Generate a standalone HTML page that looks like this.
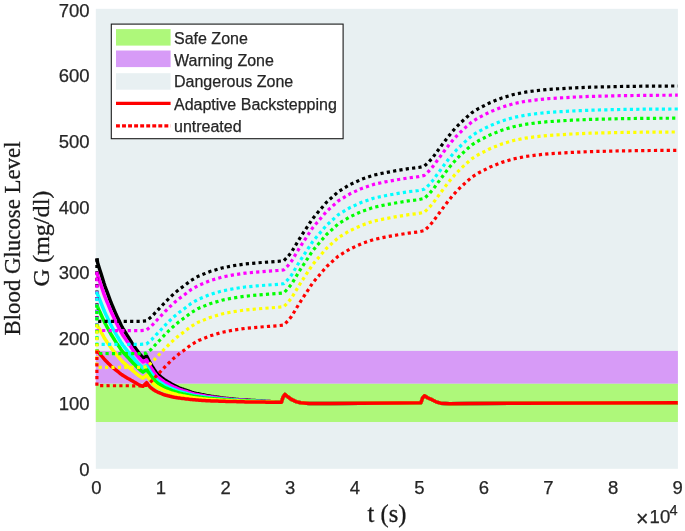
<!DOCTYPE html>
<html><head><meta charset="utf-8"><title>Blood Glucose Level</title>
<style>html,body{margin:0;padding:0;background:#fff}svg{display:block}text{font-family:"Liberation Sans",Arial,sans-serif;fill:#262626;stroke:#262626;stroke-width:0.25px}.ser{font-family:"Liberation Serif","Times New Roman",serif;fill:#1a1a1a;stroke:#1a1a1a;stroke-width:0.3px}</style></head><body>
<svg width="685" height="531" viewBox="0 0 685 531">
<rect x="0" y="0" width="685" height="531" fill="#fff"/>
<rect x="95.8" y="8.8" width="582.1" height="460.0" fill="#E8F0F2"/>
<rect x="95.8" y="383.5" width="582.1" height="38.5" fill="#AEF87A"/>
<rect x="95.8" y="350.9" width="582.1" height="32.7" fill="#D79BF7"/>
<path d="M96.9 258.4 L97.6 262.7 L98.0 264.0 L99.0 267.2 L100.0 270.4 L101.0 273.6 L102.0 276.8 L103.0 280.0 L104.0 283.3 L105.0 286.3 L106.0 289.0 L107.0 291.7 L108.0 294.4 L109.0 297.1 L110.0 299.8 L111.0 302.5 L112.0 304.9 L113.0 307.2 L114.0 309.6 L115.0 311.9 L116.0 314.3 L117.0 316.5 L118.0 318.6 L119.0 320.7 L120.0 322.8 L121.0 324.9 L122.0 327.0 L123.0 328.7 L124.0 330.3 L125.0 331.9 L126.0 333.5 L127.0 335.1 L128.0 336.7 L129.0 338.3 L130.0 339.9 L131.0 341.5 L132.0 343.1 L133.0 344.7 L134.0 346.2 L135.0 347.6 L136.0 349.0 L137.0 350.4 L138.0 351.7 L139.0 353.1 L140.0 354.3 L141.0 355.5 L142.0 356.6 L143.0 357.9 L144.0 357.5 L145.0 357.0 L146.0 356.4 L146.6 356.1 L147.0 356.9 L148.0 358.9 L149.0 360.8 L150.0 362.8 L151.0 364.4 L152.0 366.1 L153.0 367.7 L154.0 369.3 L155.0 370.7 L156.0 372.2 L157.0 373.6 L158.0 374.6 L159.0 375.4 L160.0 376.2 L161.0 377.0 L162.0 377.8 L163.0 378.6 L164.0 379.4 L165.0 380.1 L166.0 380.7 L167.0 381.3 L168.0 381.9 L169.0 382.5 L170.0 383.1 L171.0 383.7 L172.0 384.3 L173.0 384.8 L174.0 385.3 L175.0 385.8 L176.0 386.3 L177.0 386.8 L178.0 387.3 L179.0 387.8 L180.0 388.2 L181.0 388.5 L182.0 388.9 L183.0 389.2 L184.0 389.6 L185.0 389.9 L186.0 390.3 L187.0 390.6 L188.0 391.0 L189.0 391.3 L190.0 391.7 L191.0 392.0 L192.0 392.4 L193.0 392.7 L194.0 393.0 L195.0 393.2 L196.0 393.4 L197.0 393.6 L198.0 393.8 L199.0 394.0 L200.0 394.2 L201.0 394.4 L202.0 394.6 L203.0 394.8 L204.0 395.0 L205.0 395.2 L206.0 395.4 L207.0 395.6 L208.0 395.8 L209.0 396.0 L210.0 396.1 L211.0 396.3 L212.0 396.4 L213.0 396.6 L214.0 396.7 L215.0 396.9 L216.0 397.0 L217.0 397.2 L218.0 397.3 L219.0 397.5 L220.0 397.6 L221.0 397.8 L222.0 397.9 L223.0 398.1 L224.0 398.2 L225.0 398.3 L226.0 398.4 L227.0 398.5 L228.0 398.6 L229.0 398.7 L230.0 398.8 L231.0 398.9 L232.0 399.0 L233.0 399.1 L234.0 399.2 L235.0 399.3 L236.0 399.4 L237.0 399.5 L238.0 399.6 L239.0 399.7 L240.0 399.7 L241.0 399.8 L242.0 399.8 L243.0 399.9 L244.0 400.0 L245.0 400.0 L246.0 400.1 L247.0 400.1 L248.0 400.2 L249.0 400.2 L250.0 400.3 L251.0 400.4 L252.0 400.4 L253.0 400.5 L254.0 400.6 L255.0 400.6 L256.0 400.7 L257.0 400.8 L258.0 400.8 L259.0 400.9 L260.0 401.0 L261.0 401.0 L262.0 401.1 L263.0 401.2 L264.0 401.2 L265.0 401.3 L266.0 401.4 L267.0 401.4 L268.0 401.5 L269.0 401.6 L270.0 401.6 L271.0 401.7 L272.0 401.7 L273.0 401.8 L274.0 401.9 L275.0 401.9 L276.0 402.0 L277.0 402.1 L278.0 402.1 L279.0 402.2 L280.0 402.2 L281.4 402.3 L283.0 397.2 L284.9 394.4 L288.0 397.0 L291.9 399.7 L296.0 401.6 L300.6 402.8 L309.4 403.6 L330.0 403.5 L360.0 403.2 L400.0 402.9 L420.9 402.8 L422.5 398.2 L424.4 395.8 L428.0 398.0 L431.9 399.7 L436.0 401.8 L440.6 403.2 L449.4 403.8 L470.0 403.6 L520.0 403.2 L600.0 402.9 L677.8 402.7" fill="none" stroke="#000000" stroke-width="3.5" stroke-linejoin="round"/>
<path d="M96.9 271.6 L97.6 275.4 L98.0 276.5 L99.0 279.4 L100.0 282.4 L101.0 285.3 L102.0 288.2 L103.0 291.1 L104.0 294.1 L105.0 296.8 L106.0 299.3 L107.0 301.8 L108.0 304.2 L109.0 306.7 L110.0 309.1 L111.0 311.6 L112.0 313.7 L113.0 315.8 L114.0 318.0 L115.0 320.1 L116.0 322.3 L117.0 324.2 L118.0 326.2 L119.0 328.1 L120.0 330.0 L121.0 331.9 L122.0 333.8 L123.0 335.4 L124.0 336.8 L125.0 338.3 L126.0 339.7 L127.0 341.2 L128.0 342.6 L129.0 344.1 L130.0 345.6 L131.0 347.0 L132.0 348.5 L133.0 349.9 L134.0 351.3 L135.0 352.6 L136.0 353.8 L137.0 355.1 L138.0 356.4 L139.0 357.6 L140.0 358.7 L141.0 359.8 L142.0 360.8 L143.0 361.9 L144.0 361.5 L145.0 360.9 L146.0 360.3 L146.6 359.9 L147.0 360.6 L148.0 362.5 L149.0 364.4 L150.0 366.3 L151.0 367.8 L152.0 369.3 L153.0 370.8 L154.0 372.3 L155.0 373.6 L156.0 374.9 L157.0 376.2 L158.0 377.1 L159.0 377.8 L160.0 378.6 L161.0 379.3 L162.0 380.1 L163.0 380.8 L164.0 381.6 L165.0 382.3 L166.0 382.8 L167.0 383.3 L168.0 383.9 L169.0 384.4 L170.0 385.0 L171.0 385.5 L172.0 386.0 L173.0 386.5 L174.0 387.0 L175.0 387.4 L176.0 387.9 L177.0 388.3 L178.0 388.8 L179.0 389.3 L180.0 389.6 L181.0 389.9 L182.0 390.2 L183.0 390.6 L184.0 390.9 L185.0 391.2 L186.0 391.5 L187.0 391.8 L188.0 392.1 L189.0 392.5 L190.0 392.8 L191.0 393.1 L192.0 393.4 L193.0 393.7 L194.0 394.0 L195.0 394.2 L196.0 394.4 L197.0 394.5 L198.0 394.7 L199.0 394.9 L200.0 395.1 L201.0 395.3 L202.0 395.5 L203.0 395.6 L204.0 395.8 L205.0 396.0 L206.0 396.2 L207.0 396.4 L208.0 396.5 L209.0 396.7 L210.0 396.8 L211.0 396.9 L212.0 397.1 L213.0 397.2 L214.0 397.3 L215.0 397.5 L216.0 397.6 L217.0 397.8 L218.0 397.9 L219.0 398.0 L220.0 398.2 L221.0 398.3 L222.0 398.4 L223.0 398.6 L224.0 398.6 L225.0 398.7 L226.0 398.8 L227.0 398.9 L228.0 399.0 L229.0 399.1 L230.0 399.2 L231.0 399.3 L232.0 399.4 L233.0 399.5 L234.0 399.6 L235.0 399.7 L236.0 399.7 L237.0 399.8 L238.0 399.9 L239.0 400.0 L240.0 400.0 L241.0 400.1 L242.0 400.1 L243.0 400.2 L244.0 400.2 L245.0 400.3 L246.0 400.3 L247.0 400.4 L248.0 400.4 L249.0 400.5 L250.0 400.5 L251.0 400.6 L252.0 400.7 L253.0 400.7 L254.0 400.8 L255.0 400.8 L256.0 400.9 L257.0 401.0 L258.0 401.0 L259.0 401.1 L260.0 401.1 L261.0 401.2 L262.0 401.2 L263.0 401.3 L264.0 401.4 L265.0 401.4 L266.0 401.5 L267.0 401.5 L268.0 401.6 L269.0 401.6 L270.0 401.7 L271.0 401.8 L272.0 401.8 L273.0 401.9 L274.0 401.9 L275.0 402.0 L276.0 402.0 L277.0 402.1 L278.0 402.1 L279.0 402.2 L280.0 402.2 L281.4 402.3 L283.0 397.2 L284.9 394.4 L288.0 397.0 L291.9 399.7 L296.0 401.6 L300.6 402.8 L309.4 403.6 L330.0 403.5 L360.0 403.2 L400.0 402.9 L420.9 402.8 L422.5 398.2 L424.4 395.8 L428.0 398.0 L431.9 399.7 L436.0 401.8 L440.6 403.2 L449.4 403.8 L470.0 403.6 L520.0 403.2 L600.0 402.9 L677.8 402.7" fill="none" stroke="#FF00FF" stroke-width="3.5" stroke-linejoin="round"/>
<path d="M96.9 291.3 L97.6 294.4 L98.0 295.3 L99.0 297.8 L100.0 300.3 L101.0 302.8 L102.0 305.3 L103.0 307.8 L104.0 310.3 L105.0 312.6 L106.0 314.8 L107.0 316.8 L108.0 318.9 L109.0 321.0 L110.0 323.1 L111.0 325.2 L112.0 327.0 L113.0 328.8 L114.0 330.6 L115.0 332.4 L116.0 334.2 L117.0 335.9 L118.0 337.5 L119.0 339.2 L120.0 340.8 L121.0 342.4 L122.0 344.1 L123.0 345.4 L124.0 346.6 L125.0 347.9 L126.0 349.1 L127.0 350.3 L128.0 351.6 L129.0 352.8 L130.0 354.1 L131.0 355.3 L132.0 356.5 L133.0 357.8 L134.0 358.9 L135.0 360.1 L136.0 361.2 L137.0 362.3 L138.0 363.4 L139.0 364.4 L140.0 365.3 L141.0 366.2 L142.0 367.1 L143.0 368.0 L144.0 367.4 L145.0 366.7 L146.0 366.0 L146.6 365.6 L147.0 366.3 L148.0 368.0 L149.0 369.7 L150.0 371.4 L151.0 372.8 L152.0 374.1 L153.0 375.4 L154.0 376.7 L155.0 377.9 L156.0 379.0 L157.0 380.1 L158.0 380.9 L159.0 381.6 L160.0 382.2 L161.0 382.9 L162.0 383.5 L163.0 384.2 L164.0 384.9 L165.0 385.5 L166.0 385.9 L167.0 386.4 L168.0 386.9 L169.0 387.3 L170.0 387.8 L171.0 388.3 L172.0 388.7 L173.0 389.1 L174.0 389.5 L175.0 389.9 L176.0 390.3 L177.0 390.7 L178.0 391.1 L179.0 391.4 L180.0 391.7 L181.0 392.0 L182.0 392.3 L183.0 392.5 L184.0 392.8 L185.0 393.1 L186.0 393.3 L187.0 393.6 L188.0 393.9 L189.0 394.1 L190.0 394.4 L191.0 394.7 L192.0 395.0 L193.0 395.2 L194.0 395.4 L195.0 395.6 L196.0 395.8 L197.0 395.9 L198.0 396.1 L199.0 396.2 L200.0 396.4 L201.0 396.5 L202.0 396.7 L203.0 396.8 L204.0 397.0 L205.0 397.2 L206.0 397.3 L207.0 397.4 L208.0 397.6 L209.0 397.7 L210.0 397.8 L211.0 397.9 L212.0 398.0 L213.0 398.1 L214.0 398.3 L215.0 398.4 L216.0 398.5 L217.0 398.6 L218.0 398.7 L219.0 398.8 L220.0 398.9 L221.0 399.0 L222.0 399.1 L223.0 399.2 L224.0 399.3 L225.0 399.4 L226.0 399.5 L227.0 399.5 L228.0 399.6 L229.0 399.7 L230.0 399.8 L231.0 399.8 L232.0 399.9 L233.0 400.0 L234.0 400.1 L235.0 400.1 L236.0 400.2 L237.0 400.3 L238.0 400.4 L239.0 400.4 L240.0 400.4 L241.0 400.5 L242.0 400.5 L243.0 400.6 L244.0 400.6 L245.0 400.7 L246.0 400.7 L247.0 400.8 L248.0 400.8 L249.0 400.9 L250.0 400.9 L251.0 401.0 L252.0 401.0 L253.0 401.0 L254.0 401.1 L255.0 401.1 L256.0 401.2 L257.0 401.2 L258.0 401.3 L259.0 401.3 L260.0 401.4 L261.0 401.4 L262.0 401.5 L263.0 401.5 L264.0 401.6 L265.0 401.6 L266.0 401.6 L267.0 401.7 L268.0 401.7 L269.0 401.8 L270.0 401.8 L271.0 401.9 L272.0 401.9 L273.0 402.0 L274.0 402.0 L275.0 402.0 L276.0 402.1 L277.0 402.1 L278.0 402.2 L279.0 402.2 L280.0 402.3 L281.4 402.3 L283.0 397.2 L284.9 394.4 L288.0 397.0 L291.9 399.7 L296.0 401.6 L300.6 402.8 L309.4 403.6 L330.0 403.5 L360.0 403.2 L400.0 402.9 L420.9 402.8 L422.5 398.2 L424.4 395.8 L428.0 398.0 L431.9 399.7 L436.0 401.8 L440.6 403.2 L449.4 403.8 L470.0 403.6 L520.0 403.2 L600.0 402.9 L677.8 402.7" fill="none" stroke="#00FFFF" stroke-width="3.5" stroke-linejoin="round"/>
<path d="M96.9 304.4 L97.6 307.0 L98.0 307.9 L99.0 310.1 L100.0 312.3 L101.0 314.5 L102.0 316.7 L103.0 318.9 L104.0 321.1 L105.0 323.2 L106.0 325.0 L107.0 326.9 L108.0 328.7 L109.0 330.6 L110.0 332.4 L111.0 334.2 L112.0 335.8 L113.0 337.4 L114.0 339.0 L115.0 340.6 L116.0 342.2 L117.0 343.7 L118.0 345.1 L119.0 346.6 L120.0 348.0 L121.0 349.5 L122.0 350.9 L123.0 352.1 L124.0 353.2 L125.0 354.3 L126.0 355.4 L127.0 356.5 L128.0 357.6 L129.0 358.6 L130.0 359.7 L131.0 360.8 L132.0 361.9 L133.0 363.0 L134.0 364.0 L135.0 365.0 L136.0 366.0 L137.0 367.0 L138.0 368.0 L139.0 368.9 L140.0 369.8 L141.0 370.6 L142.0 371.4 L143.0 372.1 L144.0 371.4 L145.0 370.6 L146.0 369.9 L146.6 369.4 L147.0 370.0 L148.0 371.7 L149.0 373.3 L150.0 374.9 L151.0 376.1 L152.0 377.3 L153.0 378.5 L154.0 379.7 L155.0 380.7 L156.0 381.7 L157.0 382.7 L158.0 383.4 L159.0 384.0 L160.0 384.6 L161.0 385.2 L162.0 385.8 L163.0 386.5 L164.0 387.1 L165.0 387.6 L166.0 388.0 L167.0 388.4 L168.0 388.8 L169.0 389.3 L170.0 389.7 L171.0 390.1 L172.0 390.5 L173.0 390.9 L174.0 391.2 L175.0 391.6 L176.0 391.9 L177.0 392.3 L178.0 392.6 L179.0 392.9 L180.0 393.2 L181.0 393.4 L182.0 393.6 L183.0 393.9 L184.0 394.1 L185.0 394.3 L186.0 394.6 L187.0 394.8 L188.0 395.0 L189.0 395.3 L190.0 395.5 L191.0 395.8 L192.0 396.0 L193.0 396.2 L194.0 396.4 L195.0 396.5 L196.0 396.7 L197.0 396.8 L198.0 397.0 L199.0 397.1 L200.0 397.2 L201.0 397.4 L202.0 397.5 L203.0 397.6 L204.0 397.8 L205.0 397.9 L206.0 398.1 L207.0 398.2 L208.0 398.3 L209.0 398.4 L210.0 398.5 L211.0 398.6 L212.0 398.7 L213.0 398.8 L214.0 398.9 L215.0 399.0 L216.0 399.1 L217.0 399.1 L218.0 399.2 L219.0 399.3 L220.0 399.4 L221.0 399.5 L222.0 399.6 L223.0 399.7 L224.0 399.8 L225.0 399.8 L226.0 399.9 L227.0 399.9 L228.0 400.0 L229.0 400.1 L230.0 400.1 L231.0 400.2 L232.0 400.3 L233.0 400.3 L234.0 400.4 L235.0 400.5 L236.0 400.5 L237.0 400.6 L238.0 400.7 L239.0 400.7 L240.0 400.7 L241.0 400.8 L242.0 400.8 L243.0 400.9 L244.0 400.9 L245.0 400.9 L246.0 401.0 L247.0 401.0 L248.0 401.1 L249.0 401.1 L250.0 401.2 L251.0 401.2 L252.0 401.2 L253.0 401.3 L254.0 401.3 L255.0 401.3 L256.0 401.4 L257.0 401.4 L258.0 401.5 L259.0 401.5 L260.0 401.5 L261.0 401.6 L262.0 401.6 L263.0 401.6 L264.0 401.7 L265.0 401.7 L266.0 401.8 L267.0 401.8 L268.0 401.8 L269.0 401.9 L270.0 401.9 L271.0 401.9 L272.0 402.0 L273.0 402.0 L274.0 402.0 L275.0 402.1 L276.0 402.1 L277.0 402.2 L278.0 402.2 L279.0 402.2 L280.0 402.3 L281.4 402.3 L283.0 397.2 L284.9 394.4 L288.0 397.0 L291.9 399.7 L296.0 401.6 L300.6 402.8 L309.4 403.6 L330.0 403.5 L360.0 403.2 L400.0 402.9 L420.9 402.8 L422.5 398.2 L424.4 395.8 L428.0 398.0 L431.9 399.7 L436.0 401.8 L440.6 403.2 L449.4 403.8 L470.0 403.6 L520.0 403.2 L600.0 402.9 L677.8 402.7" fill="none" stroke="#00FF00" stroke-width="3.5" stroke-linejoin="round"/>
<path d="M96.9 324.2 L97.6 326.0 L98.0 326.7 L99.0 328.5 L100.0 330.2 L101.0 332.0 L102.0 333.7 L103.0 335.5 L104.0 337.3 L105.0 339.0 L106.0 340.5 L107.0 342.0 L108.0 343.4 L109.0 344.9 L110.0 346.4 L111.0 347.9 L112.0 349.1 L113.0 350.4 L114.0 351.6 L115.0 352.9 L116.0 354.2 L117.0 355.4 L118.0 356.5 L119.0 357.7 L120.0 358.8 L121.0 360.0 L122.0 361.2 L123.0 362.1 L124.0 363.0 L125.0 363.9 L126.0 364.8 L127.0 365.6 L128.0 366.5 L129.0 367.4 L130.0 368.2 L131.0 369.1 L132.0 370.0 L133.0 370.9 L134.0 371.7 L135.0 372.5 L136.0 373.3 L137.0 374.2 L138.0 375.0 L139.0 375.7 L140.0 376.4 L141.0 377.0 L142.0 377.7 L143.0 378.2 L144.0 377.4 L145.0 376.5 L146.0 375.6 L146.6 375.1 L147.0 375.7 L148.0 377.2 L149.0 378.6 L150.0 380.1 L151.0 381.1 L152.0 382.1 L153.0 383.2 L154.0 384.2 L155.0 385.0 L156.0 385.8 L157.0 386.6 L158.0 387.2 L159.0 387.7 L160.0 388.3 L161.0 388.8 L162.0 389.3 L163.0 389.8 L164.0 390.3 L165.0 390.8 L166.0 391.1 L167.0 391.5 L168.0 391.8 L169.0 392.2 L170.0 392.5 L171.0 392.9 L172.0 393.2 L173.0 393.5 L174.0 393.8 L175.0 394.0 L176.0 394.3 L177.0 394.6 L178.0 394.9 L179.0 395.1 L180.0 395.3 L181.0 395.5 L182.0 395.7 L183.0 395.9 L184.0 396.0 L185.0 396.2 L186.0 396.4 L187.0 396.6 L188.0 396.8 L189.0 397.0 L190.0 397.2 L191.0 397.3 L192.0 397.5 L193.0 397.7 L194.0 397.8 L195.0 398.0 L196.0 398.1 L197.0 398.2 L198.0 398.3 L199.0 398.4 L200.0 398.5 L201.0 398.6 L202.0 398.7 L203.0 398.9 L204.0 399.0 L205.0 399.1 L206.0 399.2 L207.0 399.3 L208.0 399.4 L209.0 399.4 L210.0 399.5 L211.0 399.6 L212.0 399.6 L213.0 399.7 L214.0 399.8 L215.0 399.8 L216.0 399.9 L217.0 400.0 L218.0 400.0 L219.0 400.1 L220.0 400.2 L221.0 400.2 L222.0 400.3 L223.0 400.4 L224.0 400.4 L225.0 400.5 L226.0 400.5 L227.0 400.6 L228.0 400.6 L229.0 400.7 L230.0 400.7 L231.0 400.8 L232.0 400.8 L233.0 400.9 L234.0 400.9 L235.0 401.0 L236.0 401.0 L237.0 401.0 L238.0 401.1 L239.0 401.1 L240.0 401.2 L241.0 401.2 L242.0 401.2 L243.0 401.3 L244.0 401.3 L245.0 401.3 L246.0 401.4 L247.0 401.4 L248.0 401.4 L249.0 401.5 L250.0 401.5 L251.0 401.5 L252.0 401.6 L253.0 401.6 L254.0 401.6 L255.0 401.6 L256.0 401.7 L257.0 401.7 L258.0 401.7 L259.0 401.7 L260.0 401.8 L261.0 401.8 L262.0 401.8 L263.0 401.9 L264.0 401.9 L265.0 401.9 L266.0 401.9 L267.0 402.0 L268.0 402.0 L269.0 402.0 L270.0 402.0 L271.0 402.1 L272.0 402.1 L273.0 402.1 L274.0 402.1 L275.0 402.2 L276.0 402.2 L277.0 402.2 L278.0 402.2 L279.0 402.3 L280.0 402.3 L281.4 402.3 L283.0 397.2 L284.9 394.4 L288.0 397.0 L291.9 399.7 L296.0 401.6 L300.6 402.8 L309.4 403.6 L330.0 403.5 L360.0 403.2 L400.0 402.9 L420.9 402.8 L422.5 398.2 L424.4 395.8 L428.0 398.0 L431.9 399.7 L436.0 401.8 L440.6 403.2 L449.4 403.8 L470.0 403.6 L520.0 403.2 L600.0 402.9 L677.8 402.7" fill="none" stroke="#FFFF00" stroke-width="3.5" stroke-linejoin="round"/>
<path d="M96.9 350.5 L97.6 351.3 L98.0 351.8 L99.0 353.0 L100.0 354.2 L101.0 355.3 L102.0 356.5 L103.0 357.7 L104.0 358.9 L105.0 360.0 L106.0 361.1 L107.0 362.1 L108.0 363.1 L109.0 364.0 L110.0 365.0 L111.0 366.0 L112.0 366.8 L113.0 367.6 L114.0 368.5 L115.0 369.3 L116.0 370.1 L117.0 370.9 L118.0 371.7 L119.0 372.5 L120.0 373.3 L121.0 374.1 L122.0 374.8 L123.0 375.5 L124.0 376.1 L125.0 376.7 L126.0 377.3 L127.0 377.9 L128.0 378.5 L129.0 379.0 L130.0 379.6 L131.0 380.2 L132.0 380.7 L133.0 381.3 L134.0 381.9 L135.0 382.5 L136.0 383.1 L137.0 383.7 L138.0 384.3 L139.0 384.8 L140.0 385.2 L141.0 385.7 L142.0 386.1 L143.0 386.3 L144.0 385.3 L145.0 384.3 L146.0 383.3 L146.6 382.7 L147.0 383.2 L148.0 384.5 L149.0 385.7 L150.0 387.0 L151.0 387.8 L152.0 388.6 L153.0 389.3 L154.0 390.1 L155.0 390.7 L156.0 391.3 L157.0 391.8 L158.0 392.3 L159.0 392.7 L160.0 393.1 L161.0 393.5 L162.0 393.9 L163.0 394.3 L164.0 394.7 L165.0 395.0 L166.0 395.3 L167.0 395.5 L168.0 395.8 L169.0 396.0 L170.0 396.3 L171.0 396.5 L172.0 396.8 L173.0 397.0 L174.0 397.2 L175.0 397.4 L176.0 397.5 L177.0 397.7 L178.0 397.9 L179.0 398.0 L180.0 398.1 L181.0 398.3 L182.0 398.4 L183.0 398.5 L184.0 398.6 L185.0 398.8 L186.0 398.9 L187.0 399.0 L188.0 399.1 L189.0 399.2 L190.0 399.4 L191.0 399.5 L192.0 399.6 L193.0 399.7 L194.0 399.8 L195.0 399.8 L196.0 399.9 L197.0 400.0 L198.0 400.1 L199.0 400.2 L200.0 400.2 L201.0 400.3 L202.0 400.4 L203.0 400.5 L204.0 400.5 L205.0 400.6 L206.0 400.7 L207.0 400.7 L208.0 400.8 L209.0 400.8 L210.0 400.8 L211.0 400.9 L212.0 400.9 L213.0 400.9 L214.0 401.0 L215.0 401.0 L216.0 401.1 L217.0 401.1 L218.0 401.1 L219.0 401.2 L220.0 401.2 L221.0 401.2 L222.0 401.3 L223.0 401.3 L224.0 401.3 L225.0 401.3 L226.0 401.4 L227.0 401.4 L228.0 401.4 L229.0 401.4 L230.0 401.5 L231.0 401.5 L232.0 401.5 L233.0 401.5 L234.0 401.6 L235.0 401.6 L236.0 401.6 L237.0 401.7 L238.0 401.7 L239.0 401.7 L240.0 401.7 L241.0 401.8 L242.0 401.8 L243.0 401.8 L244.0 401.8 L245.0 401.9 L246.0 401.9 L247.0 401.9 L248.0 401.9 L249.0 402.0 L250.0 402.0 L251.0 402.0 L252.0 402.0 L253.0 402.0 L254.0 402.0 L255.0 402.0 L256.0 402.1 L257.0 402.1 L258.0 402.1 L259.0 402.1 L260.0 402.1 L261.0 402.1 L262.0 402.1 L263.0 402.1 L264.0 402.1 L265.0 402.1 L266.0 402.2 L267.0 402.2 L268.0 402.2 L269.0 402.2 L270.0 402.2 L271.0 402.2 L272.0 402.2 L273.0 402.2 L274.0 402.2 L275.0 402.2 L276.0 402.3 L277.0 402.3 L278.0 402.3 L279.0 402.3 L280.0 402.3 L281.4 402.3 L283.0 397.2 L284.9 394.4 L288.0 397.0 L291.9 399.7 L296.0 401.6 L300.6 402.8 L309.4 403.6 L330.0 403.5 L360.0 403.2 L400.0 402.9 L420.9 402.8 L422.5 398.2 L424.4 395.8 L428.0 398.0 L431.9 399.7 L436.0 401.8 L440.6 403.2 L449.4 403.8 L470.0 403.6 L520.0 403.2 L600.0 402.9 L677.8 402.7" fill="none" stroke="#FF0000" stroke-width="3.5" stroke-linejoin="round"/>
<path d="M96.9 258.5 L96.9 321.3 L140.3 321.4 L146.5 320.9 L151.6 316.7 L156.1 311.8 L160.4 307.3 L164.9 302.5 L169.4 298.0 L174.2 293.5 L179.0 289.5 L184.4 285.6 L191.0 280.5 L198.4 276.2 L210.0 271.5 L221.8 268.0 L233.5 265.7 L245.0 264.0 L256.8 262.9 L268.5 262.0 L278.0 261.3 L283.8 260.7 L288.0 256.4 L291.6 251.9 L295.0 246.2 L298.4 240.5 L301.8 235.1 L305.1 230.1 L308.8 224.5 L312.5 218.8 L316.5 214.0 L320.8 209.0 L326.7 202.1 L338.4 191.6 L350.0 184.6 L361.8 179.2 L373.5 175.2 L385.1 172.7 L396.8 170.6 L408.5 168.7 L418.5 167.5 L424.3 166.2 L429.0 161.8 L433.0 157.2 L436.9 151.8 L440.7 146.7 L444.3 141.8 L448.5 136.3 L452.5 131.4 L456.7 126.7 L461.5 122.0 L466.7 117.2 L472.0 112.6 L478.4 108.6 L490.0 102.7 L501.8 98.0 L513.5 94.5 L525.1 92.2 L536.8 90.6 L548.5 89.4 L560.2 88.7 L571.9 88.0 L590.0 87.2 L620.0 86.5 L650.0 86.1 L677.8 86.0" fill="none" stroke="#000000" stroke-width="3.2" stroke-dasharray="3.2 3.2" stroke-linejoin="round"/>
<path d="M96.9 271.7 L96.9 330.5 L140.3 330.6 L146.5 330.1 L151.6 325.9 L156.1 321.0 L160.4 316.5 L164.9 311.7 L169.4 307.2 L174.2 302.7 L179.0 298.7 L184.4 294.8 L191.0 289.7 L198.4 285.4 L210.0 280.7 L221.8 277.2 L233.5 274.9 L245.0 273.2 L256.8 272.1 L268.5 271.2 L278.0 270.5 L283.8 269.9 L288.0 265.6 L291.6 261.1 L295.0 255.4 L298.4 249.7 L301.8 244.3 L305.1 239.3 L308.8 233.7 L312.5 228.0 L316.5 223.2 L320.8 218.2 L326.7 211.3 L338.4 200.8 L350.0 193.8 L361.8 188.4 L373.5 184.4 L385.1 181.9 L396.8 179.8 L408.5 177.9 L418.5 176.7 L424.3 175.4 L429.0 171.0 L433.0 166.4 L436.9 161.0 L440.7 155.9 L444.3 151.0 L448.5 145.5 L452.5 140.6 L456.7 135.9 L461.5 131.2 L466.7 126.4 L472.0 121.8 L478.4 117.8 L490.0 111.9 L501.8 107.2 L513.5 103.7 L525.1 101.4 L536.8 99.8 L548.5 98.6 L560.2 97.9 L571.9 97.2 L590.0 96.4 L620.0 95.7 L650.0 95.3 L677.8 95.2" fill="none" stroke="#FF00FF" stroke-width="3.2" stroke-dasharray="3.2 3.2" stroke-linejoin="round"/>
<path d="M96.9 291.4 L96.9 344.3 L140.3 344.4 L146.5 343.9 L151.6 339.7 L156.1 334.8 L160.4 330.3 L164.9 325.5 L169.4 321.0 L174.2 316.5 L179.0 312.5 L184.4 308.6 L191.0 303.5 L198.4 299.2 L210.0 294.5 L221.8 291.0 L233.5 288.7 L245.0 287.0 L256.8 285.9 L268.5 285.0 L278.0 284.3 L283.8 283.7 L288.0 279.4 L291.6 274.9 L295.0 269.2 L298.4 263.5 L301.8 258.1 L305.1 253.1 L308.8 247.5 L312.5 241.8 L316.5 237.0 L320.8 232.0 L326.7 225.1 L338.4 214.6 L350.0 207.6 L361.8 202.2 L373.5 198.2 L385.1 195.7 L396.8 193.6 L408.5 191.7 L418.5 190.5 L424.3 189.2 L429.0 184.8 L433.0 180.2 L436.9 174.8 L440.7 169.7 L444.3 164.8 L448.5 159.3 L452.5 154.4 L456.7 149.7 L461.5 145.0 L466.7 140.2 L472.0 135.6 L478.4 131.6 L490.0 125.7 L501.8 121.0 L513.5 117.5 L525.1 115.2 L536.8 113.6 L548.5 112.4 L560.2 111.7 L571.9 111.0 L590.0 110.2 L620.0 109.5 L650.0 109.1 L677.8 109.0" fill="none" stroke="#00FFFF" stroke-width="3.2" stroke-dasharray="3.2 3.2" stroke-linejoin="round"/>
<path d="M96.9 304.5 L96.9 353.5 L140.3 353.6 L146.5 353.1 L151.6 348.9 L156.1 344.0 L160.4 339.5 L164.9 334.7 L169.4 330.2 L174.2 325.7 L179.0 321.7 L184.4 317.8 L191.0 312.7 L198.4 308.4 L210.0 303.7 L221.8 300.2 L233.5 297.9 L245.0 296.2 L256.8 295.1 L268.5 294.2 L278.0 293.5 L283.8 292.9 L288.0 288.6 L291.6 284.1 L295.0 278.4 L298.4 272.7 L301.8 267.3 L305.1 262.3 L308.8 256.7 L312.5 251.0 L316.5 246.2 L320.8 241.2 L326.7 234.3 L338.4 223.8 L350.0 216.8 L361.8 211.4 L373.5 207.4 L385.1 204.9 L396.8 202.8 L408.5 200.9 L418.5 199.7 L424.3 198.4 L429.0 194.0 L433.0 189.4 L436.9 184.0 L440.7 178.9 L444.3 174.0 L448.5 168.5 L452.5 163.6 L456.7 158.9 L461.5 154.2 L466.7 149.4 L472.0 144.8 L478.4 140.8 L490.0 134.9 L501.8 130.2 L513.5 126.7 L525.1 124.4 L536.8 122.8 L548.5 121.6 L560.2 120.9 L571.9 120.2 L590.0 119.4 L620.0 118.7 L650.0 118.3 L677.8 118.2" fill="none" stroke="#00FF00" stroke-width="3.2" stroke-dasharray="3.2 3.2" stroke-linejoin="round"/>
<path d="M96.9 324.2 L96.9 367.3 L140.3 367.4 L146.5 366.9 L151.6 362.7 L156.1 357.8 L160.4 353.3 L164.9 348.5 L169.4 344.0 L174.2 339.5 L179.0 335.5 L184.4 331.6 L191.0 326.5 L198.4 322.2 L210.0 317.5 L221.8 314.0 L233.5 311.7 L245.0 310.0 L256.8 308.9 L268.5 308.0 L278.0 307.3 L283.8 306.7 L288.0 302.4 L291.6 297.9 L295.0 292.2 L298.4 286.5 L301.8 281.1 L305.1 276.1 L308.8 270.5 L312.5 264.8 L316.5 260.0 L320.8 255.0 L326.7 248.1 L338.4 237.6 L350.0 230.6 L361.8 225.2 L373.5 221.2 L385.1 218.7 L396.8 216.6 L408.5 214.7 L418.5 213.5 L424.3 212.2 L429.0 207.8 L433.0 203.2 L436.9 197.8 L440.7 192.7 L444.3 187.8 L448.5 182.3 L452.5 177.4 L456.7 172.7 L461.5 168.0 L466.7 163.2 L472.0 158.6 L478.4 154.6 L490.0 148.7 L501.8 144.0 L513.5 140.5 L525.1 138.2 L536.8 136.6 L548.5 135.4 L560.2 134.7 L571.9 134.0 L590.0 133.2 L620.0 132.5 L650.0 132.1 L677.8 132.0" fill="none" stroke="#FFFF00" stroke-width="3.2" stroke-dasharray="3.2 3.2" stroke-linejoin="round"/>
<path d="M96.9 350.5 L96.9 385.7 L140.3 385.8 L146.5 385.3 L151.6 381.1 L156.1 376.2 L160.4 371.7 L164.9 366.9 L169.4 362.4 L174.2 357.9 L179.0 353.9 L184.4 350.0 L191.0 344.9 L198.4 340.6 L210.0 335.9 L221.8 332.4 L233.5 330.1 L245.0 328.4 L256.8 327.3 L268.5 326.4 L278.0 325.7 L283.8 325.1 L288.0 320.8 L291.6 316.3 L295.0 310.6 L298.4 304.9 L301.8 299.5 L305.1 294.5 L308.8 288.9 L312.5 283.2 L316.5 278.4 L320.8 273.4 L326.7 266.5 L338.4 256.0 L350.0 249.0 L361.8 243.6 L373.5 239.6 L385.1 237.1 L396.8 235.0 L408.5 233.1 L418.5 231.9 L424.3 230.6 L429.0 226.2 L433.0 221.6 L436.9 216.2 L440.7 211.1 L444.3 206.2 L448.5 200.7 L452.5 195.8 L456.7 191.1 L461.5 186.4 L466.7 181.6 L472.0 177.0 L478.4 173.0 L490.0 167.1 L501.8 162.4 L513.5 158.9 L525.1 156.6 L536.8 155.0 L548.5 153.8 L560.2 153.1 L571.9 152.4 L590.0 151.6 L620.0 150.9 L650.0 150.5 L677.8 150.4" fill="none" stroke="#FF0000" stroke-width="3.2" stroke-dasharray="3.2 3.2" stroke-linejoin="round"/>
<text x="89.6" y="476.0" font-size="18.5" text-anchor="end">0</text>
<text x="89.6" y="410.4" font-size="18.5" text-anchor="end">100</text>
<text x="89.6" y="344.8" font-size="18.5" text-anchor="end">200</text>
<text x="89.6" y="279.1" font-size="18.5" text-anchor="end">300</text>
<text x="89.6" y="213.5" font-size="18.5" text-anchor="end">400</text>
<text x="89.6" y="147.9" font-size="18.5" text-anchor="end">500</text>
<text x="89.6" y="82.3" font-size="18.5" text-anchor="end">600</text>
<text x="89.6" y="16.7" font-size="18.5" text-anchor="end">700</text>
<text x="96.4" y="494.2" font-size="18.5" text-anchor="middle">0</text>
<text x="161.0" y="494.2" font-size="18.5" text-anchor="middle">1</text>
<text x="225.6" y="494.2" font-size="18.5" text-anchor="middle">2</text>
<text x="290.2" y="494.2" font-size="18.5" text-anchor="middle">3</text>
<text x="354.8" y="494.2" font-size="18.5" text-anchor="middle">4</text>
<text x="419.4" y="494.2" font-size="18.5" text-anchor="middle">5</text>
<text x="483.9" y="494.2" font-size="18.5" text-anchor="middle">6</text>
<text x="548.5" y="494.2" font-size="18.5" text-anchor="middle">7</text>
<text x="613.1" y="494.2" font-size="18.5" text-anchor="middle">8</text>
<text x="677.7" y="494.2" font-size="18.5" text-anchor="middle">9</text>
<text x="635.9" y="525.6" font-size="21.5">×</text>
<text x="649.6" y="523.2" font-size="18.5">10</text>
<text x="669.6" y="514.5" font-size="14.5">4</text>
<text class="ser" x="387" y="521.6" font-size="24.5" text-anchor="middle">t (s)</text>
<text class="ser" transform="translate(20.4,238.5) rotate(-90)" font-size="24" text-anchor="middle" textLength="194" lengthAdjust="spacingAndGlyphs">Blood Glucose Level</text>
<text class="ser" transform="translate(48.6,238.6) rotate(-90)" font-size="24" text-anchor="middle" textLength="96" lengthAdjust="spacingAndGlyphs">G (mg/dl)</text>
<rect x="111.3" y="24.1" width="231.8" height="114.6" fill="#fff" stroke="#1a1a1a" stroke-width="1.1"/>
<rect x="116" y="29.1" width="54.6" height="16.5" fill="#AEF87A"/>
<rect x="116" y="50.5" width="54.6" height="16.6" fill="#D79BF7"/>
<rect x="116" y="73.2" width="54.6" height="16.5" fill="#E8F0F2"/>
<path d="M116 103.4 H170.6" stroke="#FF0000" stroke-width="3.4"/>
<path d="M116 125.9 H170.6" stroke="#FF0000" stroke-width="3.2" stroke-dasharray="3.9 2.15"/>
<text x="174" y="44.0" font-size="16">Safe Zone</text>
<text x="174" y="65.6" font-size="16">Warning Zone</text>
<text x="174" y="87.4" font-size="16">Dangerous Zone</text>
<text x="174" y="110.0" font-size="16">Adaptive Backstepping</text>
<text x="174" y="132.3" font-size="16">untreated</text>
</svg></body></html>
